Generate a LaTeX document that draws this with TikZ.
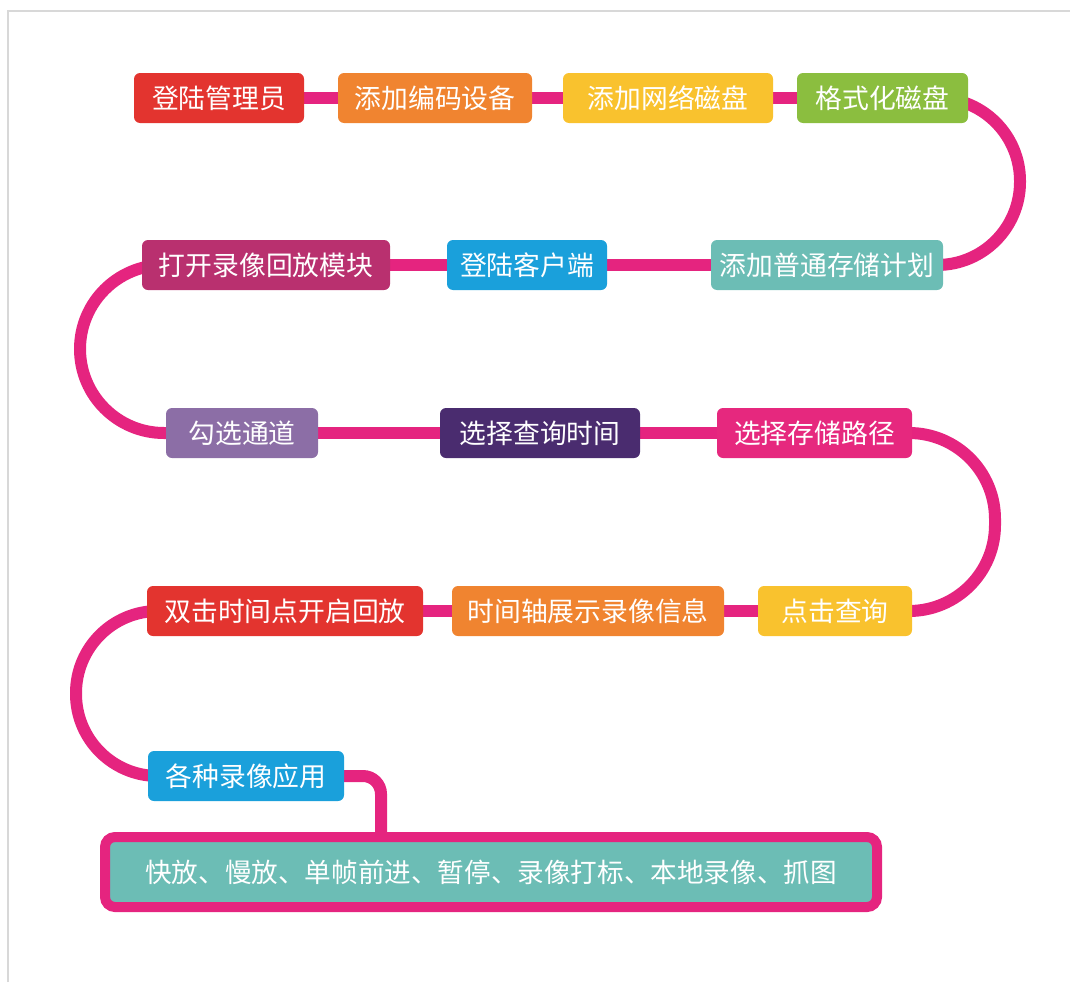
\documentclass[tikz,border=0pt]{standalone}
\usepackage{fontspec}
\setmainfont{Noto Sans CJK SC}
\pgfdeclarelayer{background}
\pgfsetlayers{background,main}
\definecolor{cred}{HTML}{E3342F}
\definecolor{corange}{HTML}{F08430}
\definecolor{cyellow}{HTML}{F9C22E}
\definecolor{cgreen}{HTML}{8BBE3F}
\definecolor{cplum}{HTML}{B9306F}
\definecolor{cblue}{HTML}{1AA0DB}
\definecolor{cteal}{HTML}{6CBDB5}
\definecolor{clilac}{HTML}{8C6EA6}
\definecolor{cdark}{HTML}{4A2C6F}
\definecolor{cpink}{HTML}{E6287E}
\definecolor{cline}{HTML}{E5247F}
\definecolor{cframe}{HTML}{D8D8D8}
\tikzset{
  stepbox/.style={rectangle, rounded corners=6pt, minimum height=50pt, inner sep=0pt,
    text=white, font=\fontsize{26.8pt}{30pt}\selectfont},
  link/.style={draw=cline, line width=12pt},
}
\begin{document}
\begin{tikzpicture}[x=1pt,y=-1pt]
\useasboundingbox (0,0) rectangle (1070,982);
\draw[cframe, line width=1.5pt] (8,982) -- (8,11) -- (1070,11);
% row 1
\node[stepbox, fill=cred, minimum width=170pt] (a) at (219,98) {登陆管理员};
\node[stepbox, fill=corange, minimum width=194pt] (b) at (435,98) {添加编码设备};
\node[stepbox, fill=cyellow, minimum width=210pt] (c) at (668,98) {添加网络磁盘};
\node[stepbox, fill=cgreen, minimum width=171pt] (d) at (882.5,98) {格式化磁盘};
% row 2
\node[stepbox, fill=cplum, minimum width=248pt] (e) at (266,265) {打开录像回放模块};
\node[stepbox, fill=cblue, minimum width=160pt] (f) at (527,265) {登陆客户端};
\node[stepbox, fill=cteal, minimum width=232pt] (g) at (827,265) {添加普通存储计划};
% row 3
\node[stepbox, fill=clilac, minimum width=152pt] (h) at (242,433) {勾选通道};
\node[stepbox, fill=cdark, minimum width=200pt] (i) at (540,433) {选择查询时间};
\node[stepbox, fill=cpink, minimum width=195pt] (j) at (814.5,433) {选择存储路径};
% row 4
\node[stepbox, fill=cred, minimum width=276pt] (k) at (285,611) {双击时间点开启回放};
\node[stepbox, fill=corange, minimum width=272pt] (l) at (588,611) {时间轴展示录像信息};
\node[stepbox, fill=cyellow, minimum width=154pt] (m) at (835,611) {点击查询};
% row 5
\node[stepbox, fill=cblue, minimum width=196pt] (n) at (246,776) {各种录像应用};
% bottom
\node[rectangle, rounded corners=10pt, draw=cline, line width=10pt, fill=cteal,
  minimum width=772pt, minimum height=70pt, inner sep=0pt, text=white,
  font=\fontsize{26.6pt}{30pt}\selectfont] (z) at (491,872)
  {快放、慢放、单帧前进、暂停、录像打标、本地录像、抓图};
\coordinate (zin) at (381,860);
\begin{pgfonlayer}{background}
\draw[link] (a.center) -- (b.center) -- (c.center) -- (d.center);
\draw[link, rounded corners=83pt] (d.center) -- (1020,98) -- (1020,265) -- (g.center);
\draw[link] (g.center) -- (f.center) -- (e.center);
\draw[link, rounded corners=84pt] (e.center) -- (80,265) -- (80,433) -- (h.center);
\draw[link] (h.center) -- (i.center) -- (j.center);
\draw[link, rounded corners=86pt] (j.center) -- (995,433) -- (995,611) -- (m.center);
\draw[link] (m.center) -- (l.center) -- (k.center);
\draw[link, rounded corners=82pt] (k.center) -- (76,611) -- (76,776) -- (n.center);
\draw[link, rounded corners=18pt] (n.center) -- (381,776) -- (zin);
\end{pgfonlayer}
\end{tikzpicture}
\end{document}
